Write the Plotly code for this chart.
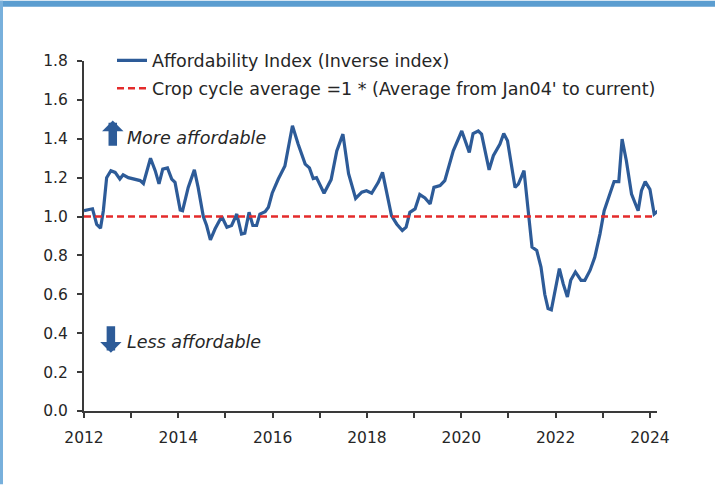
import plotly.graph_objects as go

# Affordability index (inverse index), decimal years
years = [2012.00, 2012.13, 2012.18, 2012.27, 2012.35, 2012.41, 2012.48, 2012.57, 2012.66, 2012.76,
         2012.83, 2012.94, 2013.08, 2013.19, 2013.26, 2013.33, 2013.41, 2013.51, 2013.59, 2013.67,
         2013.77, 2013.86, 2013.93, 2014.04, 2014.09, 2014.21, 2014.34, 2014.42, 2014.53, 2014.60,
         2014.68, 2014.78, 2014.92, 2015.03, 2015.13, 2015.24, 2015.34, 2015.41, 2015.50, 2015.58,
         2015.66, 2015.73, 2015.84, 2015.91, 2015.99, 2016.12, 2016.26, 2016.42, 2016.54, 2016.69,
         2016.78, 2016.86, 2016.93, 2017.09, 2017.24, 2017.36, 2017.49, 2017.61, 2017.76, 2017.89,
         2017.99, 2018.10, 2018.17, 2018.24, 2018.33, 2018.42, 2018.52, 2018.63, 2018.75, 2018.83,
         2018.91, 2019.02, 2019.12, 2019.23, 2019.34, 2019.42, 2019.55, 2019.65, 2019.83, 2020.01,
         2020.17, 2020.25, 2020.36, 2020.43, 2020.59, 2020.68, 2020.82, 2020.90, 2020.98, 2021.14,
         2021.21, 2021.33, 2021.40, 2021.46, 2021.50, 2021.60, 2021.69, 2021.77, 2021.84, 2021.91,
         2021.98, 2022.08, 2022.16, 2022.25, 2022.32, 2022.42, 2022.54, 2022.62, 2022.73, 2022.83,
         2022.94, 2023.03, 2023.15, 2023.24, 2023.34, 2023.41, 2023.50, 2023.61, 2023.75, 2023.82,
         2023.90, 2024.00, 2024.09, 2024.18]
index_values = [1.03, 1.04, 1.04, 0.96, 0.94, 1.03, 1.20, 1.236, 1.227, 1.193,
                1.215, 1.20, 1.193, 1.185, 1.17, 1.227, 1.30, 1.236, 1.168, 1.244,
                1.25, 1.193, 1.176, 1.034, 1.03, 1.15, 1.24, 1.15, 1.00, 0.954,
                0.88, 0.937, 1.00, 0.945, 0.954, 1.013, 0.91, 0.914, 1.022, 0.954,
                0.954, 1.013, 1.025, 1.048, 1.12, 1.193, 1.26, 1.467, 1.373, 1.27,
                1.25, 1.195, 1.20, 1.12, 1.19, 1.338, 1.424, 1.22, 1.093, 1.125,
                1.133, 1.12, 1.15, 1.176, 1.227, 1.116, 1.005, 0.962, 0.928, 0.945,
                1.022, 1.039, 1.113, 1.096, 1.065, 1.15, 1.159, 1.185, 1.338, 1.44,
                1.33, 1.427, 1.44, 1.424, 1.24, 1.313, 1.373, 1.427, 1.39, 1.15,
                1.167, 1.236, 1.065, 0.928, 0.843, 0.826, 0.74, 0.60, 0.527, 0.52,
                0.612, 0.732, 0.655, 0.586, 0.672, 0.715, 0.672, 0.672, 0.723, 0.79,
                0.91, 1.03, 1.116, 1.18, 1.18, 1.398, 1.287, 1.116, 1.03, 1.133,
                1.18, 1.14, 1.013, 1.03]

avg_years = [2012.0, 2024.1]
avg_values = [1.0, 1.0]

x_ticks = [2012, 2014, 2016, 2018, 2020, 2022, 2024]
y_ticks = [0.0, 0.2, 0.4, 0.6, 0.8, 1.0, 1.2, 1.4, 1.6, 1.8]

names = ["Affordability Index (Inverse index)",
         "Crop cycle average =1 * (Average from Jan04' to current)"]
notes = ["More affordable", "Less affordable"]

W, H = 715, 485
L, R, T, B = 84, 58, 60.5, 73.5
pw, ph = W - L - R, H - T - B

BLUE = "#2d5b98"
RED = "#e42b2b"
AX = "#3a3a3a"
TXT = "#262626"
FONT = "DejaVu Sans"

fig = go.Figure()
fig.add_trace(go.Scatter(x=years, y=index_values, mode="lines", name=names[0],
                         line=dict(color=BLUE, width=3.2), legendgroup="a"))
fig.add_trace(go.Scatter(x=avg_years, y=avg_values, mode="lines", name=names[1],
                         line=dict(color=RED, width=2.5, dash="7px,4px"), legendgroup="b"))

fig.update_layout(
    width=W, height=H,
    margin=dict(l=L, r=R, t=T, b=B, pad=0),
    paper_bgcolor="white", plot_bgcolor="white",
    font=dict(family=FONT, color=TXT, size=15),
    showlegend=True,
    legend=dict(x=(112 - L) / pw, y=(T + ph - 42) / ph, xanchor="left", yanchor="top",
                bgcolor="rgba(0,0,0,0)", font=dict(size=17.5, color=TXT),
                itemwidth=30, tracegroupgap=2, traceorder="grouped"),
    xaxis=dict(range=[2012, 2024.15], tickvals=x_ticks, ticktext=[str(v) for v in x_ticks],
               showgrid=False, zeroline=False, showline=True, linecolor=AX, linewidth=2,
               ticks="outside", ticklen=5, tickwidth=2, tickcolor=AX,
               minor=dict(dtick=1, tick0=2012, ticks="outside", ticklen=5, tickwidth=2,
                          tickcolor=AX, showgrid=False),
               tickfont=dict(size=15.5, color=TXT), ticklabelstandoff=6),
    yaxis=dict(range=[0, 1.8], tickvals=y_ticks, ticktext=[f"{v:.1f}" for v in y_ticks],
               showgrid=False, zeroline=False, showline=True, linecolor=AX, linewidth=2,
               ticks="outside", ticklen=5, tickwidth=2, tickcolor=AX,
               tickfont=dict(size=15.5, color=TXT), ticklabelstandoff=6),
)

# arrows
fig.add_annotation(x=2012.61, y=1.494, ax=2012.61, ay=1.356, axref="x", ayref="y",
                   xref="x", yref="y", text="", showarrow=True, arrowhead=1,
                   arrowsize=0.42, arrowwidth=8.5, arrowcolor=BLUE)
fig.add_annotation(x=2012.57, y=0.300, ax=2012.57, ay=0.444, axref="x", ayref="y",
                   xref="x", yref="y", text="", showarrow=True, arrowhead=1,
                   arrowsize=0.42, arrowwidth=8.5, arrowcolor=BLUE)
fig.add_annotation(x=2012.86, y=1.403, xref="x", yref="y", text=notes[0], showarrow=False,
                   xanchor="left", yanchor="middle",
                   font=dict(size=17.5, style="italic", color=TXT))
fig.add_annotation(x=2012.86, y=0.353, xref="x", yref="y", text=notes[1], showarrow=False,
                   xanchor="left", yanchor="middle",
                   font=dict(size=17.5, style="italic", color=TXT))

# frame decoration (blue edges of the page)
fig.add_shape(type="rect", xref="paper", yref="paper", layer="above",
              x0=-L / pw, x1=(W - L) / pw, y0=(ph + T - 6) / ph, y1=(ph + T) / ph,
              line=dict(width=0), fillcolor="#5b9dd0")
fig.add_shape(type="rect", xref="paper", yref="paper", layer="above",
              x0=-L / pw, x1=(3 - L) / pw, y0=-B / ph, y1=(ph + T) / ph,
              line=dict(width=0), fillcolor="#78b0dc")

fig.write_html("out.html")
